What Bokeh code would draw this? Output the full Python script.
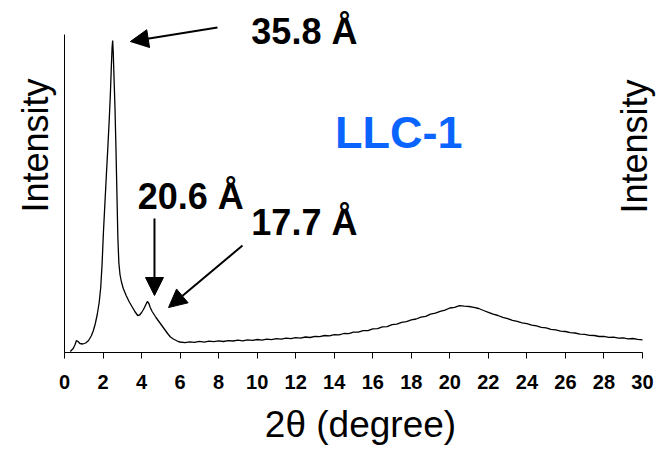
from bokeh.plotting import figure
from bokeh.models import Range1d, FixedTicker, Label, Arrow, NormalHead, ColumnDataSource, Title
from bokeh.embed import file_html
from bokeh.resources import INLINE
import math

# ---- data ----
two_theta = [
    0.3, 0.45, 0.55, 0.62, 0.7, 0.8, 0.95, 1.1, 1.25, 1.4, 1.5, 1.6, 1.7, 1.8, 1.88, 1.95,
    2.02, 2.1, 2.18, 2.25, 2.32, 2.38, 2.43, 2.47, 2.5, 2.53, 2.57, 2.62, 2.67, 2.72, 2.77,
    2.82, 2.88, 2.95, 3.05, 3.2, 3.35, 3.5, 3.65, 3.8, 3.9, 4.0, 4.1, 4.2, 4.3, 4.38, 4.45,
    4.55, 4.65, 4.75, 4.9, 5.05, 5.2, 5.35, 5.5, 5.65, 5.8, 5.9,
    6.0, 6.25, 6.5, 6.75, 7.0, 7.25, 7.5, 7.75, 8.0, 8.25, 8.5, 8.75, 9.0, 9.25, 9.5, 9.75,
    10.0, 10.25, 10.5, 10.75, 11.0, 11.25, 11.5, 11.75, 12.0, 12.25, 12.5, 12.75, 13.0, 13.25,
    13.5, 13.75, 14.0, 14.25, 14.5, 14.75, 15.0, 15.25, 15.5, 15.75, 16.0, 16.25, 16.5, 16.75,
    17.0, 17.25, 17.5, 17.75, 18.0, 18.25, 18.5, 18.75, 19.0, 19.25, 19.5, 19.75, 20.0, 20.25,
    20.5, 20.75, 21.0, 21.25, 21.5, 21.75, 22.0, 22.25, 22.5, 22.75, 23.0, 23.25, 23.5, 23.75,
    24.0, 24.25, 24.5, 24.75, 25.0, 25.25, 25.5, 25.75, 26.0, 26.25, 26.5, 26.75, 27.0, 27.25,
    27.5, 27.75, 28.0, 28.25, 28.5, 28.75, 29.0, 29.25, 29.5, 29.75, 30.0,
]
intensity = [
    1, 4, 8, 12, 11, 9, 8.5, 9.5, 12, 17, 22, 29, 38, 50, 65, 88,
    120, 150, 180, 205, 232, 258, 285, 305, 312, 300, 275, 245, 205, 160, 115,
    90, 78, 71, 64, 57, 51, 46, 41, 37, 37.5, 40, 43, 47, 51, 49, 45,
    41, 38, 35, 31, 27, 23, 19, 15.5, 13.5, 12, 11,
    10.5, 9.8, 10.6, 10.2, 11.1, 10.4, 11.3, 10.9, 11.6, 11.0, 11.9, 11.5, 12.3, 11.7, 12.6, 12.1,
    13.0, 12.4, 13.4, 12.9, 13.8, 13.3, 14.3, 13.8, 14.9, 14.4, 15.5, 15.0, 16.2, 15.8,
    17.0, 16.6, 17.9, 17.6, 19.0, 18.8, 20.4, 20.3, 21.9, 21.9, 23.7, 23.8, 25.6, 25.9,
    27.8, 28.3, 30.1, 30.9, 32.6, 33.5, 35.3, 36.2, 38.4, 39.3, 41.2, 42.4, 44.5, 45.2,
    46.8, 46.3, 46.0, 45.1, 44.0, 42.0, 40.2, 38.3, 37.0, 35.1, 33.9, 32.2, 31.1, 29.6,
    28.9, 27.3, 26.6, 25.1, 24.6, 23.2, 22.7, 21.4, 21.0, 19.8, 19.5, 18.4, 18.2, 17.1,
    17.0, 16.0, 16.1, 15.2, 15.3, 14.4, 14.6, 13.7, 14.0, 13.2, 12.6,
]
x_ticks = [0, 2, 4, 6, 8, 10, 12, 14, 16, 18, 20, 22, 24, 26, 28, 30]
peak_labels = ["35.8 Å", "20.6 Å", "17.7 Å"]
sample_name = "LLC-1"
x_title = "2θ (degree)"
y_title = "Intensity"

FONT = "Liberation Sans, Arial, sans-serif"

# frame: x from 0 (px 64) to 30 (px 642), extended to the right edge; y up to canvas top
p = figure(width=656, height=450, output_backend="svg", toolbar_location=None,
           x_range=Range1d(0, 30.727), y_range=Range1d(0, 352))
p.min_border_left = 64
p.min_border_right = 0
p.min_border_top = 0
p.min_border_bottom = 98
p.outline_line_color = None
p.background_fill_color = "white"
p.border_fill_color = "white"
p.grid.visible = False

src = ColumnDataSource(dict(x=two_theta, y=intensity))
p.line("x", "y", source=src, line_color="black", line_width=1.3)

# x axis
xa = p.xaxis[0]
xa.bounds = (0, 30)
xa.ticker = FixedTicker(ticks=x_ticks)
xa.minor_tick_line_color = None
xa.major_tick_in = 0
xa.major_tick_out = 6
xa.major_tick_line_color = "black"
xa.axis_line_color = "black"
xa.major_label_text_font = FONT
xa.major_label_text_font_style = "bold"
xa.major_label_text_font_size = "20px"
xa.major_label_text_color = "black"
xa.major_label_standoff = 16
xa.axis_label = x_title
xa.axis_label_text_font = FONT
xa.axis_label_text_font_style = "normal"
xa.axis_label_text_font_size = "37px"
xa.axis_label_text_color = "black"
xa.axis_label_standoff = 12

# y axis (line only)
ya = p.yaxis[0]
ya.bounds = (0, 318)
ya.ticker = FixedTicker(ticks=[])
ya.minor_tick_line_color = None
ya.major_tick_line_color = None
ya.major_label_text_font_size = "0px"
ya.axis_line_color = "black"

# left "Intensity"
p.add_layout(Title(text=y_title, align="left", offset=140, standoff=18,
                   text_font=FONT, text_font_size="36px", text_font_style="normal",
                   text_color="black"), "left")

# right-hand "Intensity"
p.add_layout(Label(x=29.6, y=206, text=y_title, angle=math.pi / 2,
                   text_align="center", text_baseline="middle",
                   text_font=FONT, text_font_size="36px", text_color="black"))

# sample name
p.add_layout(Label(x=17.35, y=220, text=sample_name, text_align="center",
                   text_baseline="middle", text_font=FONT, text_font_size="45px",
                   text_font_style="bold", text_color="#0a64ff"))

# peak labels
for (lx, ly), t in zip([(12.45, 321), (6.55, 156), (12.45, 130)], peak_labels):
    p.add_layout(Label(x=lx, y=ly, text=t, text_align="center", text_baseline="middle",
                       text_font=FONT, text_font_size="36px", text_font_style="bold",
                       text_color="black"))

# arrows
for (x0, y0, x1, y1) in [(7.94, 325, 3.42, 311), (4.67, 134, 4.67, 57), (9.24, 107, 5.40, 45)]:
    p.add_layout(Arrow(x_start=x0, y_start=y0, x_end=x1, y_end=y1, line_width=2,
                       line_color="black",
                       end=NormalHead(size=18, fill_color="black", line_color="black")))

open("out.html", "w").write(file_html(p, INLINE))
